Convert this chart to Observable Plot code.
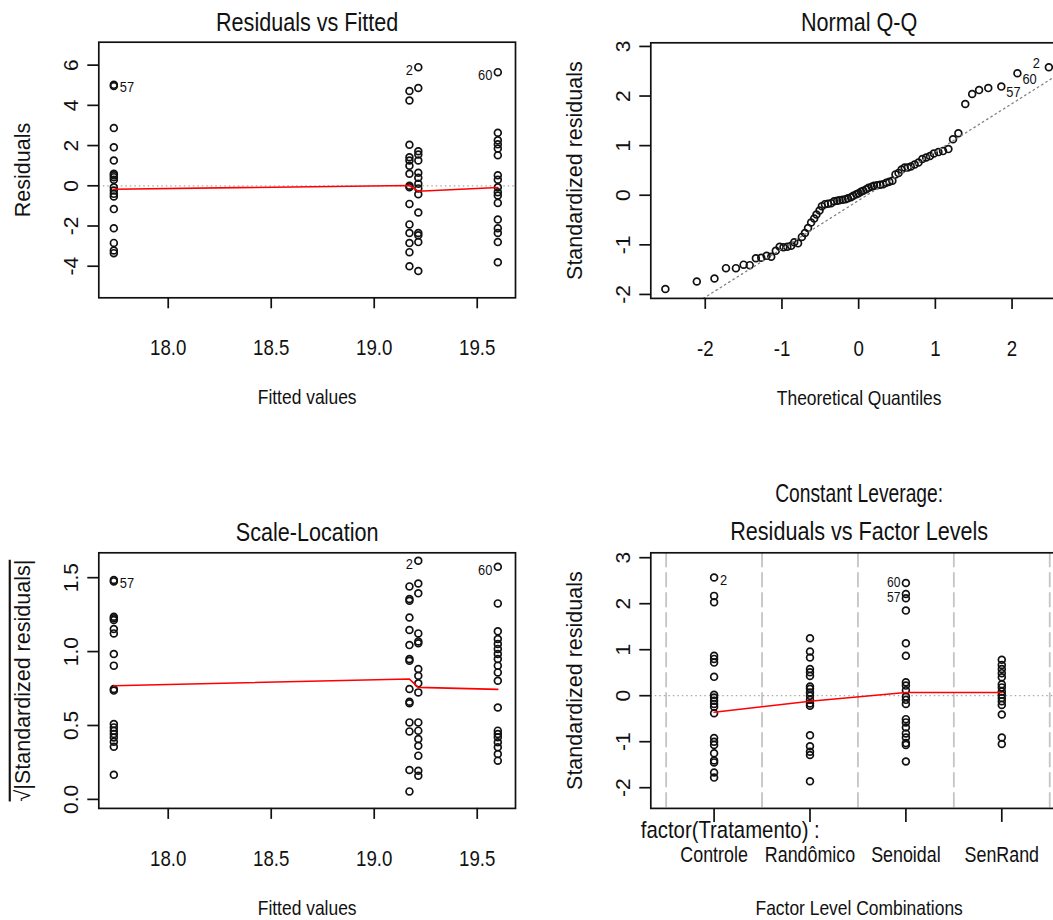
<!DOCTYPE html>
<html>
<head>
<meta charset="utf-8">
<script src="https://cdn.jsdelivr.net/npm/d3@7"></script>
<script src="https://cdn.jsdelivr.net/npm/@observablehq/plot@0.6"></script>
<style>
  html, body { margin: 0; padding: 0; background: #fff; overflow: hidden; }
  #page { position: relative; width: 1053px; height: 920px; overflow: hidden; background: #fff; }
  .panel { position: absolute; width: 552px; height: 460px; }
  .panel svg { display: block; }
</style>
</head>
<body>
<div id="page"></div>
<script>
// ---------------- data ----------------
// Residuals vs Fitted: one array per fitted-value column
const fittedValues = [17.736, 19.171, 19.214, 19.600];
const residualsCol1 = [5.02, 4.96, 2.87, 1.92, 1.26, 0.60, 0.52, 0.43, 0.30, -0.07, -0.24, -0.40, -0.53, -1.16, -2.11, -2.84, -3.22, -3.35];
const residualsCol2 = [4.71, 4.24, 2.04, 1.42, 1.26, 1.00, 0.60, 0.00, -0.07, -0.90, -1.92, -2.35, -2.85, -3.30, -4.00];
const residualsCol3 = [5.90, 4.86, 1.72, 1.55, 1.26, 0.65, 0.40, 0.10, -0.13, -0.42, -1.33, -2.35, -2.46, -2.80, -4.24];
const residualsCol4 = [5.65, 2.64, 2.26, 2.06, 1.85, 1.52, 0.52, 0.30, -0.07, -0.32, -0.48, -0.85, -1.68, -2.11, -2.35, -2.80, -3.80];
const residualSmooth = [-0.17, 0.015, -0.27, -0.085];

// Scale-Location: sqrt(|standardized residuals|) per fitted-value column
const sqrtStdCol1 = [1.484, 1.475, 1.236, 1.225, 1.214, 1.153, 1.123, 0.984, 0.905, 0.747, 0.736, 0.510, 0.487, 0.464, 0.442, 0.419, 0.390, 0.356, 0.167];
const sqrtStdCol2 = [1.441, 1.356, 1.344, 1.231, 1.146, 1.044, 0.950, 0.938, 0.747, 0.661, 0.650, 0.521, 0.460, 0.199, 0.054];
const sqrtStdCol3 = [1.615, 1.461, 1.394, 1.123, 1.069, 1.056, 0.882, 0.837, 0.785, 0.724, 0.521, 0.465, 0.409, 0.363, 0.296, 0.194, 0.160];
const sqrtStdCol4 = [1.574, 1.326, 1.137, 1.085, 1.051, 1.018, 0.984, 0.950, 0.905, 0.859, 0.803, 0.622, 0.465, 0.442, 0.420, 0.386, 0.352, 0.307, 0.262];
const scaleSmooth = [0.769, 0.814, 0.758, 0.744];

// Normal Q-Q: theoretical quantiles and ordered standardized residuals
const theoreticalQ = [-2.52, -2.11, -1.88, -1.73, -1.60, -1.50, -1.42, -1.34, -1.27, -1.20, -1.14, -1.08, -1.03, -0.98, -0.93, -0.88, -0.84, -0.79, -0.74, -0.70, -0.66, -0.62, -0.58, -0.55, -0.51, -0.48, -0.44, -0.40, -0.36, -0.32, -0.28, -0.25, -0.21, -0.17, -0.14, -0.10, -0.07, -0.03, 0.00, 0.03, 0.06, 0.10, 0.13, 0.17, 0.20, 0.24, 0.28, 0.32, 0.36, 0.40, 0.44, 0.48, 0.52, 0.56, 0.60, 0.64, 0.68, 0.73, 0.78, 0.83, 0.88, 0.93, 0.98, 1.04, 1.10, 1.17, 1.23, 1.30, 1.39, 1.48, 1.57, 1.69, 1.86, 2.07, 2.48];
const sampleQ = [-1.89, -1.74, -1.68, -1.47, -1.47, -1.40, -1.41, -1.27, -1.26, -1.22, -1.24, -1.12, -1.04, -1.05, -1.04, -1.02, -0.95, -0.97, -0.84, -0.76, -0.66, -0.55, -0.47, -0.39, -0.31, -0.22, -0.18, -0.17, -0.16, -0.12, -0.11, -0.10, -0.09, -0.08, -0.06, -0.04, -0.01, 0.02, 0.04, 0.07, 0.09, 0.12, 0.15, 0.17, 0.19, 0.20, 0.21, 0.22, 0.25, 0.27, 0.29, 0.42, 0.45, 0.52, 0.56, 0.56, 0.58, 0.62, 0.66, 0.73, 0.76, 0.79, 0.84, 0.87, 0.89, 0.93, 1.13, 1.25, 1.84, 2.04, 2.12, 2.16, 2.19, 2.46, 2.58];
const qqLineX = [-2.025, 2.72];
const qqLineY = [-2.08, 2.55];

// Residuals vs Factor Levels: standardized residuals per treatment
const levels = ["Controle", "Randômico", "Senoidal", "SenRand"];
const stdControle = [2.57, 2.17, 2.03, 0.87, 0.80, 0.72, 0.41, 0.02, -0.04, -0.11, -0.18, -0.24, -0.38, -0.92, -1.00, -1.07, -1.25, -1.41, -1.45, -1.67, -1.78];
const stdRandomico = [1.25, 0.96, 0.83, 0.58, 0.51, 0.43, 0.20, 0.15, 0.07, 0.00, -0.09, -0.17, -0.22, -0.86, -1.10, -1.22, -1.29, -1.86];
const stdSenoidal = [2.45, 2.21, 2.12, 1.85, 1.14, 0.87, 0.29, 0.22, 0.12, -0.02, -0.09, -0.18, -0.51, -0.58, -0.69, -0.82, -0.91, -1.03, -1.07, -1.43];
const stdSenRand = [0.78, 0.67, 0.58, 0.49, 0.40, 0.25, 0.18, 0.09, 0.02, -0.05, -0.12, -0.20, -0.41, -0.91, -1.05];
const factorSmooth = [-0.36, -0.12, 0.07, 0.07];

// tick values
const fittedTicks = [18.0, 18.5, 19.0, 19.5];
const residTicks = [-4, -2, 0, 2, 4, 6];
const qTicks = [-2, -1, 0, 1, 2];
const stdTicks = [-2, -1, 0, 1, 2, 3];
const sqrtTicks = [0.0, 0.5, 1.0, 1.5];

// ---------------- helpers ----------------
const FONT = "'Liberation Sans',Arial,Helvetica,sans-serif";
const SQUEEZE = 0.83; // horizontal text is drawn condensed
const SQUEEZE_TIGHT = {"Constant Leverage:": 0.74};
const INK = "#111";
const page = document.getElementById("page");

const columns = (xs, cols) => cols.flatMap((col, i) => col.map(v => ({x: xs[i], y: v})));
const minus = v => String(v).replace("\u2212", "-");

function frameMarks({xTicks, xFmt, yTicks, yFmt, title, xLabel, yLabel, xTickSize = 11}) {
  const m = [
    Plot.frame({stroke: INK, strokeWidth: 1.7}),
    Plot.axisY(yTicks, {anchor: "left", tickSize: 11, tickFormat: () => "", label: null, strokeWidth: 1.7, stroke: INK})
  ];
  if (xTicks) {
    m.push(Plot.axisX(xTicks, {anchor: "bottom", tickSize: xTickSize, tickFormat: () => "", label: null, strokeWidth: 1.7, stroke: INK}));
    m.push(Plot.text(xTicks, {x: d => d, text: xFmt, frameAnchor: "bottom", dy: 50, lineAnchor: "middle",
      fontSize: 22.5, fontFamily: FONT, fill: INK}));
  }
  m.push(Plot.text(yTicks, {y: d => d, text: yFmt, frameAnchor: "left", dx: -28, rotate: -90,
    textAnchor: "middle", lineAnchor: "middle", fontSize: 21, fontFamily: FONT, fill: INK}));
  if (xLabel) m.push(Plot.text([xLabel], {text: d => d, frameAnchor: "bottom", dy: 99.5, lineAnchor: "middle",
    fontSize: 21, fontFamily: FONT, fill: INK}));
  m.push(Plot.text([yLabel], {text: d => d, frameAnchor: "left", dx: -76, rotate: -90,
    textAnchor: "middle", lineAnchor: "middle", fontSize: 21.5, fontFamily: FONT, fill: INK}));
  title.forEach(([t, dy]) => m.push(Plot.text([t], {text: d => d, frameAnchor: "top", dy, lineAnchor: "middle",
    fontSize: 26, fontFamily: FONT, fill: INK})));
  return m;
}

function pointLabels(items, anchor, dx, dy, fontSize = 15.5) {
  return Plot.text(items, {x: "x", y: "y", text: "id", textAnchor: anchor, dx, dy, lineAnchor: "middle",
    fontSize, fontFamily: FONT, fill: INK});
}

const dots = data => Plot.dot(data, {x: "x", y: "y", r: 3.4, stroke: INK, strokeWidth: 1.7, fill: "none"});

function panel(left, top, marginTop, xDomain, yDomain, marks) {
  const svg = Plot.plot({
    width: 552, height: 460,
    marginLeft: 98.3, marginRight: 37, marginTop, marginBottom: 460 - marginTop - 255.6,
    x: {type: "linear", domain: xDomain, axis: null},
    y: {type: "linear", domain: yDomain, axis: null},
    style: {background: "transparent", overflow: "visible"},
    marks
  });
  const div = document.createElement("div");
  div.className = "panel";
  div.style.left = left + "px";
  div.style.top = top + "px";
  div.appendChild(svg);
  page.appendChild(div);
  return svg;
}

const fittedDomain = [17.663, 17.663 + 416.7 / 206];

// ---------------- Residuals vs Fitted ----------------
panel(0, 0, 41.7, fittedDomain, [-5.57, 7.14], [
  Plot.ruleY([0], {stroke: "#aaa", strokeWidth: 1.2, strokeDasharray: "1.5,3"}),
  dots(columns(fittedValues, [residualsCol1, residualsCol2, residualsCol3, residualsCol4])),
  Plot.line(fittedValues.map((x, i) => ({x, y: residualSmooth[i]})), {x: "x", y: "y", stroke: "red", strokeWidth: 1.6}),
  pointLabels([{id: "57", x: fittedValues[0], y: residualsCol1[0]}], "start", 6, 2.5),
  pointLabels([{id: "2", x: fittedValues[2], y: residualsCol3[0]}, {id: "60", x: fittedValues[3], y: residualsCol4[0]}], "end", -5.5, 3),
  ...frameMarks({xTicks: fittedTicks, xFmt: d => d.toFixed(1), yTicks: residTicks, yFmt: minus,
    title: [["Residuals vs Fitted", -20]], xLabel: "Fitted values", yLabel: "Residuals"})
]);

// ---------------- Normal Q-Q ----------------
const qqPoints = theoreticalQ.map((x, i) => ({x, y: sampleQ[i]}));
const nq = qqPoints.length;
panel(551.7, 0, 42.3, [-2.71, -2.71 + 416.7 / 76.7], [-2.08, -2.08 + 255.6 / 49.6], [
  dots(qqPoints),
  Plot.line(qqLineX.map((x, i) => ({x, y: qqLineY[i]})), {x: "x", y: "y", stroke: "#808080", strokeWidth: 1.3, strokeDasharray: "1.5,3.5"}),
  pointLabels([{id: "57", ...qqPoints[nq - 3]}, {id: "60", ...qqPoints[nq - 2]}], "start", 5, 5.5),
  pointLabels([{id: "2", ...qqPoints[nq - 1]}], "end", -9, -4),
  ...frameMarks({xTicks: qTicks, xFmt: minus, yTicks: stdTicks, yFmt: minus,
    title: [["Normal Q-Q", -20]], xLabel: "Theoretical Quantiles", yLabel: "Standardized residuals"})
]);

// ---------------- Scale-Location ----------------
const slSvg = panel(0, 460, 92.3, fittedDomain, [-0.061, -0.061 + 255.6 / 147.8], [
  dots(columns(fittedValues, [sqrtStdCol1, sqrtStdCol2, sqrtStdCol3, sqrtStdCol4])),
  Plot.line(fittedValues.map((x, i) => ({x, y: scaleSmooth[i]})), {x: "x", y: "y", stroke: "red", strokeWidth: 1.6}),
  pointLabels([{id: "57", x: fittedValues[0], y: sqrtStdCol1[0]}], "start", 6, 3),
  pointLabels([{id: "2", x: fittedValues[2], y: sqrtStdCol3[0]}, {id: "60", x: fittedValues[3], y: sqrtStdCol4[0]}], "end", -5.5, 3.5),
  ...frameMarks({xTicks: fittedTicks, xFmt: d => d.toFixed(1), yTicks: sqrtTicks, yFmt: d => d.toFixed(1),
    title: [["Scale-Location", -20]], xLabel: "Fitted values", yLabel: "\u221A|Standardized residuals|"})
]);
d3.select(slSvg).selectAll("text").filter(function () { return this.textContent.startsWith("\u221A"); })
  .style("text-decoration", "overline");

// ---------------- Residuals vs Factor Levels ----------------
const levelIndex = levels.map((_, i) => i + 1);
const factorPoints = columns(levelIndex, [stdControle, stdRandomico, stdSenoidal, stdSenRand]);
const boundaries = [0.5, 1.5, 2.5, 3.5, 4.5];
panel(551.7, 460, 92.3, [0.34, 0.34 + 416.7 / 95.9], [-2.45, -2.45 + 255.6 / 46], [
  Plot.ruleX(boundaries, {stroke: "#c4c4c4", strokeWidth: 1.8, strokeDasharray: "15,5"}),
  Plot.ruleY([0], {stroke: "#aaa", strokeWidth: 1.2, strokeDasharray: "1.5,3"}),
  dots(factorPoints),
  Plot.line(levelIndex.map((x, i) => ({x, y: factorSmooth[i]})), {x: "x", y: "y", stroke: "red", strokeWidth: 1.6}),
  pointLabels([{id: "2", x: 1, y: stdControle[0]}], "start", 6, 3),
  pointLabels([{id: "60", x: 3, y: stdSenoidal[0]}], "end", -5.5, -0.5, 14.5),
  pointLabels([{id: "57", x: 3, y: stdSenoidal[1]}], "end", -5.5, 3.5, 14.5),
  ...frameMarks({xTicks: levelIndex, xFmt: () => "", yTicks: stdTicks, yFmt: minus, xTickSize: 14,
    title: [["Constant Leverage:", -59], ["Residuals vs Factor Levels", -21.5]],
    xLabel: "Factor Level Combinations", yLabel: "Standardized residuals"}),
  Plot.text(["factor(Tratamento) :"], {text: d => d, frameAnchor: "bottom-left", dx: -10, dy: 22,
    textAnchor: "start", lineAnchor: "middle", fontSize: 24.5, fontFamily: FONT, fill: INK}),
  Plot.text(levels, {x: (d, i) => i + 1, text: d => d, frameAnchor: "bottom", dy: 46.5, lineAnchor: "middle",
    fontSize: 21.5, fontFamily: FONT, fill: INK})
]);

// condense every horizontal label; rotated axis titles and tick labels keep normal width
d3.selectAll("#page text").each(function () {
  const tf = this.getAttribute("transform") || "";
  if (/rotate/.test(tf) || !this.textContent) return;
  const k = SQUEEZE_TIGHT[this.textContent] ?? SQUEEZE;
  const len = this.getComputedTextLength();
  this.setAttribute("textLength", (len * k).toFixed(2));
  this.setAttribute("lengthAdjust", "spacingAndGlyphs");
});
</script>
</body>
</html>
